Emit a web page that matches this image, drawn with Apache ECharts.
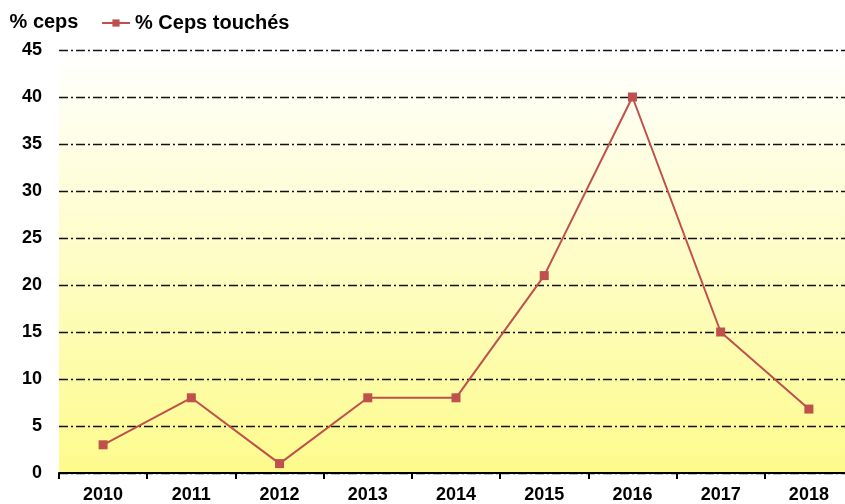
<!DOCTYPE html>
<html>
<head>
<meta charset="utf-8">
<script src="https://cdn.jsdelivr.net/npm/echarts@6/dist/echarts.min.js"></script>
<style>
  html, body { margin: 0; padding: 0; background: #fff; }
  #chart { width: 845px; height: 504px; }
</style>
</head>
<body>
<div id="chart"></div>
<script>
// années et pourcentage de ceps touchés
var years = ['2010', '2011', '2012', '2013', '2014', '2015', '2016', '2017', '2018'];
var cepsTouches = [3, 8, 1, 8, 8, 21, 40, 15, 6.8];
var yTicks = [0, 5, 10, 15, 20, 25, 30, 35, 40, 45];

var font = 'Liberation Sans, Arial, sans-serif';
var chart = echarts.init(document.getElementById('chart'));

chart.setOption({
  animation: false,
  textStyle: { fontFamily: font },
  legend: {
    left: 96,
    top: 8,
    itemWidth: 28,
    itemHeight: 9,
    itemGap: 2,
    textStyle: { fontSize: 20, fontWeight: 'bold', color: '#000', fontFamily: font },
    data: ['% Ceps touchés']
  },
  grid: {
    left: 59,
    width: 794,
    top: 50,
    bottom: 31,
    outerBoundsMode: 'none',
    containLabel: false,
    show: true,
    borderWidth: 0,
    backgroundColor: new echarts.graphic.LinearGradient(0, 0, 0, 1, [
      { offset: 0, color: '#ffffff' },
      { offset: 1, color: '#fdfb8c' }
    ])
  },
  xAxis: {
    type: 'category',
    data: years,
    boundaryGap: true,
    axisLine: { lineStyle: { color: '#000', width: 2 } },
    axisTick: { show: true, length: 6, lineStyle: { color: '#000', width: 2 } },
    axisLabel: { fontSize: 18, fontWeight: 'bold', color: '#000', margin: 13, fontFamily: font }
  },
  yAxis: {
    type: 'value',
    min: yTicks[0],
    max: yTicks[yTicks.length - 1],
    interval: 5,
    name: '% ceps',
    nameLocation: 'end',
    nameGap: 18,
    nameTextStyle: { fontSize: 20, fontWeight: 'bold', color: '#000', align: 'center', padding: [0, 0, 0, -30], fontFamily: font },
    axisLine: { show: false },
    axisTick: { show: false },
    axisLabel: { fontSize: 18, fontWeight: 'bold', color: '#000', margin: 17, fontFamily: font },
    splitLine: {
      show: true,
      lineStyle: { color: '#111', width: 1.3, type: [9, 3, 2, 3] }
    }
  },
  series: [{
    name: '% Ceps touchés',
    type: 'line',
    data: cepsTouches,
    symbol: 'rect',
    symbolSize: 9,
    lineStyle: { color: '#c0504d', width: 2 },
    itemStyle: { color: '#c0504d' }
  }]
});
</script>
</body>
</html>
